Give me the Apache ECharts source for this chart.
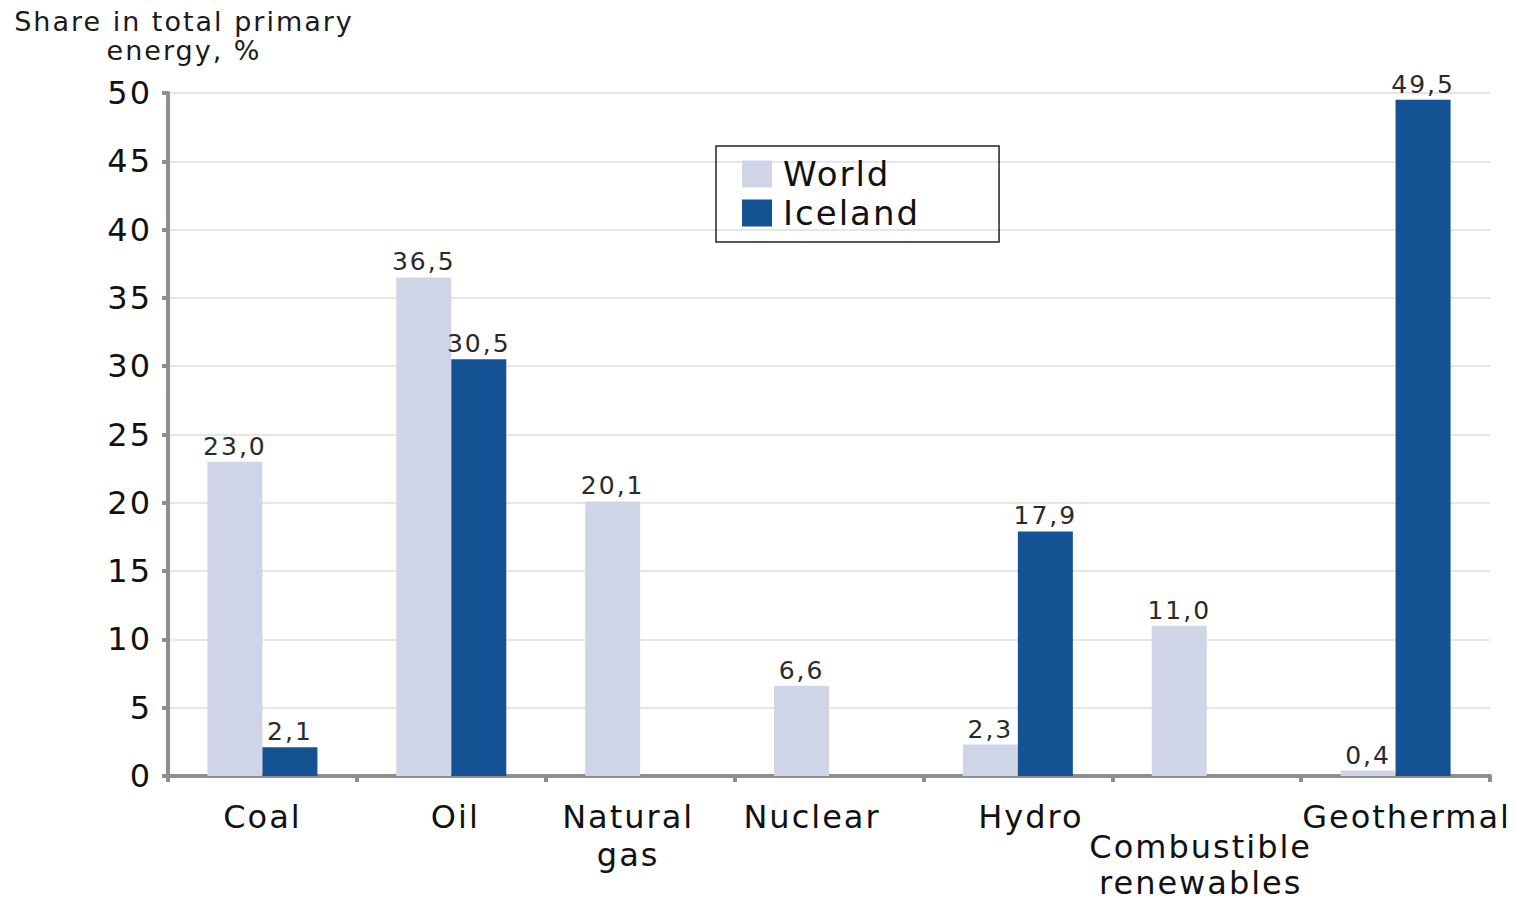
<!DOCTYPE html>
<html>
<head>
<meta charset="utf-8">
<script src="https://cdn.jsdelivr.net/npm/echarts@6/dist/echarts.min.js"></script>
<style>
  html, body { margin: 0; padding: 0; background: #fff; }
  #chart { width: 1522px; height: 903px; }
  /* the typeface used here is set with open tracking */
  #chart svg text { letter-spacing: 2px; }
</style>
</head>
<body>
<div id="chart"></div>
<script>
// Energy sources on the category axis
const categories = ['Coal', 'Oil', 'Natural\ngas', 'Nuclear', 'Hydro', 'Combustible\nrenewables', 'Geothermal'];
// Share in total primary energy, %
const worldValues = [23.0, 36.5, 20.1, 6.6, 2.3, 11.0, 0.4];
const icelandValues = [2.1, 30.5, null, null, 17.9, null, 49.5];
const yTicks = { min: 0, max: 50, interval: 5 };

const FONT = '"DejaVu Sans", "Open Sans", sans-serif';
const AXIS_GREY = '#8e8e8e';

// horizontal nudge (px) of each category name from its slot centre,
// and an extra drop (px) for the name that sits on a second row
const labelShift = [0, 4, -12, -17, 13, -6, 11];
const labelDrop = [0, 0, 0, 0, 0, 31, 0];

const categoryData = categories.map((name, i) => {
  const s = labelShift[i];
  const style = {
    padding: [labelDrop[i], s < 0 ? -2 * s : 0, 0, s > 0 ? 2 * s : 0]
  };
  if (labelDrop[i]) style.lineHeight = 36;
  return { value: name, textStyle: style };
});

const valueLabel = {
  show: true,
  position: 'top',
  distance: 3,
  color: '#2a2a2a',
  fontFamily: FONT,
  fontSize: 25,
  formatter: p => p.value == null ? '' : p.value.toFixed(1).replace('.', ',')
};

const chart = echarts.init(document.getElementById('chart'), null, { renderer: 'svg' });
chart.setOption({
  animation: false,
  textStyle: { fontFamily: FONT },
  title: {
    text: 'Share in total primary\nenergy, %',
    left: 179,
    top: 2,
    textAlign: 'center',
    textStyle: { fontFamily: FONT, fontSize: 27, fontWeight: 'normal', color: '#1a1a1a', lineHeight: 29 }
  },
  legend: {
    orient: 'vertical',
    left: 716,
    top: 146,
    padding: [11, 93, 12, 26],
    itemGap: 5,
    itemWidth: 30,
    itemHeight: 27,
    borderColor: '#222',
    borderWidth: 1.5,
    icon: 'rect',
    textStyle: { fontFamily: FONT, fontSize: 34, color: '#111', padding: [0, 0, 0, 6] },
    data: ['World', 'Iceland']
  },
  grid: { left: 168, right: 32, top: 93, bottom: 127, containLabel: false, outerBoundsMode: 'none' },
  xAxis: {
    type: 'category',
    data: categoryData,
    boundaryGap: true,
    axisLine: { show: true, lineStyle: { color: AXIS_GREY, width: 4 } },
    axisTick: { show: true, interval: 0, length: 6, lineStyle: { color: AXIS_GREY, width: 4 } },
    axisLabel: {
      interval: 0,
      margin: 22,
      color: '#111',
      fontFamily: FONT,
      fontSize: 32,
      lineHeight: 38
    },
    splitLine: { show: false }
  },
  yAxis: {
    type: 'value',
    min: yTicks.min,
    max: yTicks.max,
    interval: yTicks.interval,
    axisLine: { show: true, lineStyle: { color: AXIS_GREY, width: 4 } },
    axisTick: { show: true, length: 6, lineStyle: { color: AXIS_GREY, width: 4 } },
    axisLabel: { margin: 16, color: '#111', fontFamily: FONT, fontSize: 32 },
    splitLine: { show: true, lineStyle: { color: '#dedede', width: 1.5 } }
  },
  series: [
    {
      name: 'World',
      type: 'bar',
      data: worldValues,
      barWidth: 55,
      barGap: '0%',
      itemStyle: { color: '#cfd5e6' },
      label: valueLabel
    },
    {
      name: 'Iceland',
      type: 'bar',
      data: icelandValues,
      barWidth: 55,
      barGap: '0%',
      itemStyle: { color: '#155293' },
      label: valueLabel
    }
  ]
});
</script>
</body>
</html>
